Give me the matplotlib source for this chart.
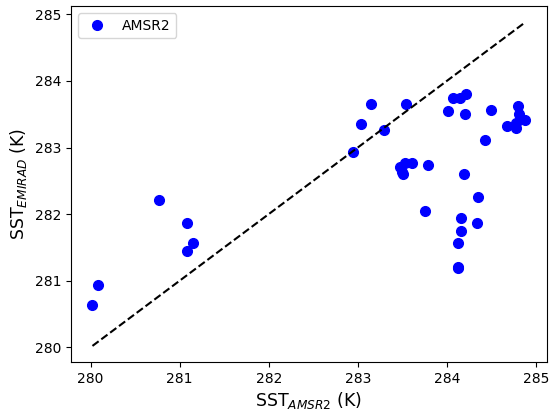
import matplotlib
matplotlib.use("Agg")
import matplotlib.pyplot as plt
import numpy as np

# AMSR2 vs EMIRAD sea surface temperature (K)
sst_amsr2 = [
    280.02, 280.08, 280.77, 281.08, 281.15, 281.08,
    282.95, 283.04, 283.15, 283.30, 283.54,
    283.47, 283.53, 283.61, 283.51, 283.50, 283.79,
    284.01, 284.07, 284.15, 284.21, 284.20, 284.50,
    284.80, 284.81, 284.88, 284.68, 284.78, 284.78, 284.43,
    284.19, 284.35, 283.76, 284.16, 284.34, 284.16, 284.12, 284.12, 284.12,
]
sst_emirad = [
    280.64, 280.93, 282.21, 281.86, 281.56, 281.44,
    282.94, 283.35, 283.66, 283.26, 283.66,
    282.71, 282.76, 282.76, 282.60, 282.63, 282.73,
    283.55, 283.75, 283.75, 283.80, 283.51, 283.57,
    283.63, 283.51, 283.41, 283.33, 283.37, 283.30, 283.11,
    282.60, 282.26, 282.05, 281.94, 281.87, 281.74, 281.56, 281.21, 281.19,
]
ticks = [280, 281, 282, 283, 284, 285]

x = np.array(sst_amsr2)
y = np.array(sst_emirad)

fig = plt.figure(figsize=(5.49, 4.11), dpi=100)
ax = fig.add_axes([0.129, 0.119, 0.867, 0.866])

ax.plot(x, y, 'o', color='blue', markersize=7, label='AMSR2')
line = np.array([x.min(), x.max()])
ax.plot(line, line, '--', color='black', linewidth=1.5)

ax.set_xlabel(r'SST$_{AMSR2}$ (K)', fontsize=12.5, labelpad=3)
ax.set_ylabel(r'SST$_{EMIRAD}$ (K)', fontsize=12.5, labelpad=4)
ax.set_xticks(ticks)
ax.set_yticks(ticks)
ax.tick_params(labelsize=10, length=3.5, width=0.8)
ax.legend(loc='upper left', fontsize=10)

fig.savefig('out.png', dpi=100)
